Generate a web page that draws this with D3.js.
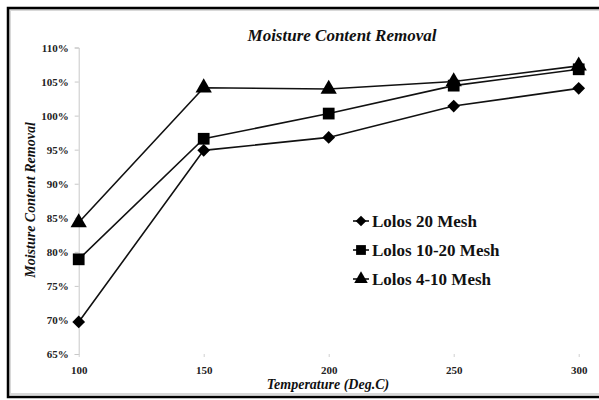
<!DOCTYPE html>
<html>
<head>
<meta charset="utf-8">
<script src="https://cdn.jsdelivr.net/npm/d3@7"></script>
<style>
  body { margin: 0; background: #fff; }
  svg { display: block; }
</style>
</head>
<body>
<div class="vis-line"></div>
<script>
const temps = [100, 150, 200, 250, 300];
const yTicks = [0.65, 0.70, 0.75, 0.80, 0.85, 0.90, 0.95, 1.00, 1.05, 1.10];
const mesh20 = [0.697, 0.949, 0.968, 1.014, 1.040];
const mesh1020 = [0.789, 0.966, 1.003, 1.044, 1.068];
const mesh410 = [0.843, 1.041, 1.039, 1.050, 1.073];
const seriesNames = ["Lolos 20 Mesh", "Lolos 10-20 Mesh", "Lolos 4-10 Mesh"];
const seriesShapes = ["diamond", "square", "triangle"];

const series = [mesh20, mesh1020, mesh410].map((vals, i) => ({
  name: seriesNames[i],
  shape: seriesShapes[i],
  values: vals.map((v, j) => ({ t: temps[j], v: v }))
}));

const width = 599;
const height = 400;

const svg = d3
  .select(".vis-line")
  .append("svg")
  .attr("width", width)
  .attr("height", height);

// frame
svg.append("rect")
  .attr("x", 10).attr("y", 10)
  .attr("width", 600).attr("height", 384)
  .attr("fill", "none").attr("stroke", "#d8d8d8").attr("stroke-width", 2);
svg.append("rect")
  .attr("x", 8).attr("y", 8)
  .attr("width", 600).attr("height", 389)
  .attr("fill", "none").attr("stroke", "#000").attr("stroke-width", 2.5);

const xScale = d3.scaleLinear().domain([100, 300]).range([78.7, 578.7]);
const yScale = d3.scaleLinear().domain([0.65, 1.10]).range([354, 47.5]);

const g = svg.append("g");

// y axis
const yAxis = g.append("g")
  .attr("transform", `translate(${xScale(100)},0)`)
  .call(d3.axisLeft(yScale).tickValues(yTicks).tickFormat(d3.format(".0%")).tickSize(4).tickPadding(6));
yAxis.select(".domain").attr("stroke", "#c8c8c8");
yAxis.selectAll(".tick line").attr("stroke", "#c8c8c8");
yAxis.selectAll("text")
  .attr("font-family", "Liberation Serif")
  .attr("font-weight", "bold")
  .attr("font-size", 11)
  .attr("fill", "#222");

// x axis
const xAxis = g.append("g")
  .attr("transform", `translate(0,${yScale(0.65)})`)
  .call(d3.axisBottom(xScale).tickValues(temps).tickFormat(d3.format("d")).tickSize(3).tickPadding(9));
xAxis.select(".domain").remove();
xAxis.selectAll(".tick line").attr("stroke", "#d0d0d0");
xAxis.selectAll("text")
  .attr("font-family", "Liberation Serif")
  .attr("font-weight", "bold")
  .attr("font-size", 11)
  .attr("fill", "#222");

// symbols
const symbolFor = (shape, size) => {
  if (shape === "diamond") return d3.symbol().type(d3.symbolDiamond2).size(size * 0.9)();
  if (shape === "square") return d3.symbol().type(d3.symbolSquare).size(size * 1.2)();
  return d3.symbol().type(d3.symbolTriangle).size(size)();
};

const line = d3.line()
  .x((d) => xScale(d.t))
  .y((d) => yScale(d.v));

series.forEach((s) => {
  g.append("path")
    .datum(s.values)
    .attr("d", line)
    .attr("fill", "none")
    .attr("stroke", "#111")
    .attr("stroke-width", 1.6);
  g.selectAll(".pt-" + s.shape)
    .data(s.values)
    .enter()
    .append("path")
    .attr("class", "pt-" + s.shape)
    .attr("transform", (d) => `translate(${xScale(d.t)},${yScale(d.v)})`)
    .attr("d", symbolFor(s.shape, 115))
    .attr("fill", "#000");
});

// legend
const legend = g.append("g").attr("transform", "translate(353,221)");
series.forEach((s, i) => {
  const row = legend.append("g").attr("transform", `translate(0,${i * 29})`);
  row.append("line").attr("x1", 0).attr("x2", 16).attr("y1", 0).attr("y2", 0)
    .attr("stroke", "#111").attr("stroke-width", 1.6);
  row.append("path").attr("transform", "translate(8,0)")
    .attr("d", symbolFor(s.shape, 80)).attr("fill", "#000");
  row.append("text")
    .attr("x", 19).attr("y", 6)
    .attr("font-family", "Liberation Serif")
    .attr("font-weight", "bold")
    .attr("font-size", 17)
    .attr("fill", "#111")
    .text(s.name);
});

// title & axis labels
svg.append("text")
  .attr("x", 342).attr("y", 41)
  .attr("text-anchor", "middle")
  .attr("font-family", "Liberation Serif")
  .attr("font-weight", "bold")
  .attr("font-style", "italic")
  .attr("font-size", 17)
  .attr("fill", "#111")
  .text("Moisture Content Removal");

svg.append("text")
  .attr("x", 328).attr("y", 389)
  .attr("text-anchor", "middle")
  .attr("font-family", "Liberation Serif")
  .attr("font-weight", "bold")
  .attr("font-style", "italic")
  .attr("font-size", 14)
  .attr("fill", "#111")
  .text("Temperature (Deg.C)");

svg.append("text")
  .attr("transform", "translate(35,200) rotate(-90)")
  .attr("text-anchor", "middle")
  .attr("font-family", "Liberation Serif")
  .attr("font-weight", "bold")
  .attr("font-style", "italic")
  .attr("font-size", 14)
  .attr("fill", "#111")
  .text("Moisture Content Removal");
</script>
</body>
</html>
